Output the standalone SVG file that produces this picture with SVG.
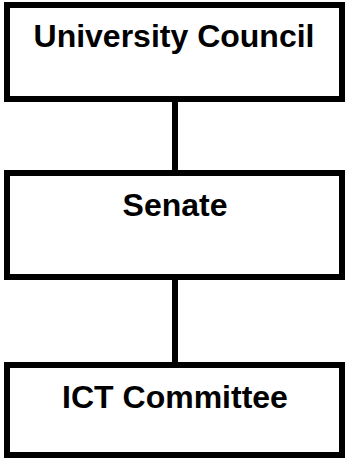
<svg xmlns="http://www.w3.org/2000/svg" width="346" height="459" viewBox="0 0 346 459">
<style>
.box{fill:#fff;stroke:#000;stroke-width:6}
.lbl{font-family:"Liberation Sans",Arial,sans-serif;font-weight:bold;font-size:32px;fill:#000;text-anchor:middle}
.con{stroke:#000;stroke-width:6;fill:none}
</style>
<rect width="346" height="459" fill="#fff"/>
<g id="connectors">
<line class="con" x1="175" y1="102" x2="175" y2="170"/>
<line class="con" x1="175" y1="280" x2="175" y2="362"/>
</g>
<g id="university-council">
<rect class="box" x="7" y="5" width="335" height="94"/>
<text class="lbl" x="174" y="47">University Council</text>
</g>
<g id="senate">
<rect class="box" x="7" y="173" width="335" height="104"/>
<text class="lbl" x="175" y="216">Senate</text>
</g>
<g id="ict-committee">
<rect class="box" x="7" y="365" width="335" height="90"/>
<text class="lbl" x="175" y="408">ICT Committee</text>
</g>
</svg>
